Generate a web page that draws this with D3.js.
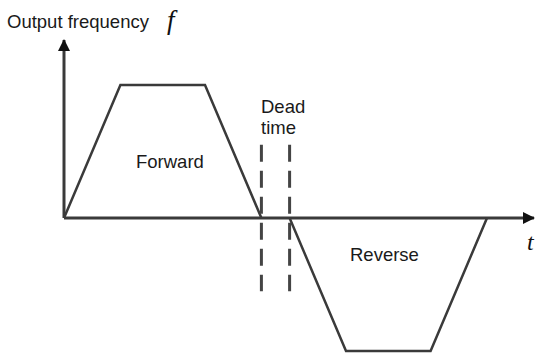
<!doctype html>
<html>
<head>
<style>
  body { margin: 0; background: #fff; }
  .lbl { font-family: Arial, "Liberation Sans", sans-serif; font-size: 18.5px; fill: #1a1a1a; }
</style>
<script src="https://d3js.org/d3.v7.min.js"></script>
</head>
<body>
<svg id="chart" width="536" height="353"></svg>
<script>
// frequency profile: forward run, dead time, reverse run
var forwardT = [0, 2, 5, 7];
var forwardF = [0, 1, 1, 0];
var reverseT = [8, 10, 13, 15];
var reverseF = [0, -1, -1, 0];
var deadT = [7, 8];
var deadRange = [0.55, -0.55];

var svg = d3.select("#chart");

var x = d3.scaleLinear().domain([0, 15]).range([64, 487]);
var y = d3.scaleLinear().domain([-1, 1]).range([351, 85]);

var ink = "#3a3a3a";

svg.append("defs").append("marker")
   .attr("id", "arrow")
   .attr("viewBox", "0 0 12 12")
   .attr("refX", 11).attr("refY", 6)
   .attr("markerWidth", 12).attr("markerHeight", 12)
   .attr("markerUnits", "userSpaceOnUse")
   .attr("orient", "auto")
   .append("path")
   .attr("d", "M0,0 L12,6 L0,12 Z")
   .attr("fill", "#111");

// axes
svg.append("line")
   .attr("x1", x(0)).attr("y1", y(0))
   .attr("x2", x(0)).attr("y2", 40)
   .attr("stroke", ink).attr("stroke-width", 3)
   .attr("marker-end", "url(#arrow)");

svg.append("line")
   .attr("x1", x(0)).attr("y1", y(0))
   .attr("x2", 534).attr("y2", y(0))
   .attr("stroke", ink).attr("stroke-width", 3)
   .attr("marker-end", "url(#arrow)");

var line = d3.line()
    .x(function(d) { return x(d[0]); })
    .y(function(d) { return y(d[1]); });

svg.append("path")
   .attr("d", line(d3.zip(forwardT, forwardF)))
   .attr("fill", "none").attr("stroke", ink).attr("stroke-width", 2.5)
   .attr("stroke-linejoin", "miter");

svg.append("path")
   .attr("d", line(d3.zip(reverseT, reverseF)))
   .attr("fill", "none").attr("stroke", ink).attr("stroke-width", 2.5)
   .attr("stroke-linejoin", "miter");

svg.selectAll(".dead")
   .data(deadT)
   .enter().append("line")
   .attr("class", "dead")
   .attr("x1", function(d) { return x(d); })
   .attr("x2", function(d) { return x(d); })
   .attr("y1", y(deadRange[0]))
   .attr("y2", y(deadRange[1]))
   .attr("stroke", "#444").attr("stroke-width", 3)
   .attr("stroke-dasharray", "17,9");

// labels
svg.append("text").attr("class", "lbl")
   .attr("x", 7).attr("y", 28).attr("font-size", 19).text("Output frequency");
svg.append("text")
   .attr("x", 167).attr("y", 29)
   .attr("font-family", "'Liberation Serif', 'DejaVu Serif', serif")
   .attr("font-style", "italic").attr("font-size", 27)
   .attr("fill", "#111").text("f");
svg.append("text")
   .attr("x", 527).attr("y", 250)
   .attr("font-family", "'Liberation Serif', 'DejaVu Serif', serif")
   .attr("font-style", "italic").attr("font-size", 24)
   .attr("fill", "#111").text("t");

svg.append("text").attr("class", "lbl")
   .attr("x", 261).attr("y", 113).text("Dead");
svg.append("text").attr("class", "lbl")
   .attr("x", 261).attr("y", 134).text("time");
svg.append("text").attr("class", "lbl")
   .attr("x", 136).attr("y", 168).text("Forward");
svg.append("text").attr("class", "lbl")
   .attr("x", 350).attr("y", 261).text("Reverse");
</script>
</body>
</html>
